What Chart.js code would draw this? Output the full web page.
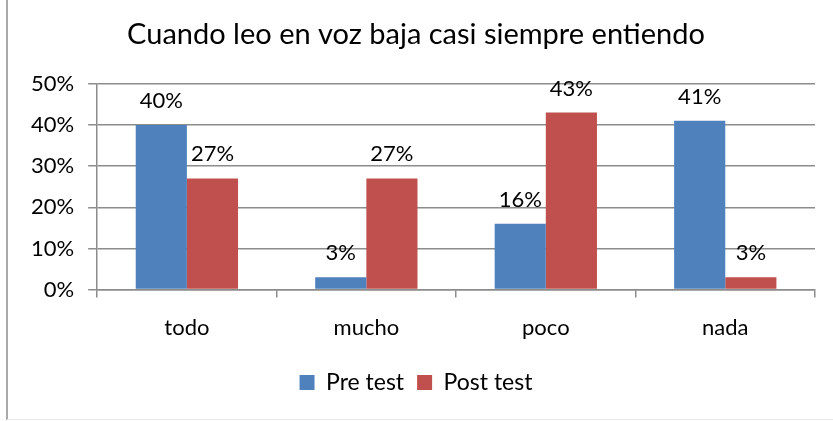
<!DOCTYPE html>
<html>
<head>
<meta charset="utf-8">
<script src="https://cdn.jsdelivr.net/npm/chart.js@4/dist/chart.umd.min.js"></script>
<style>
  html, body { margin: 0; padding: 0; background: #fff; }
  #wrap { width: 833px; height: 421px; position: relative; }
</style>
</head>
<body>
<div id="wrap"><canvas id="chart1"></canvas></div>
<script>
const categories = ["todo", "mucho", "poco", "nada"];
const preTest = [40, 3, 16, 41];
const postTest = [27, 27, 43, 3];
const yTicks = [0, 10, 20, 30, 40, 50];

const fontFamily = "Lato, 'Open Sans', sans-serif";

// etiquetas encima de cada barra
const barLabels = {
  id: "barLabels",
  afterDatasetsDraw(chart) {
    const ctx = chart.ctx;
    ctx.save();
    ctx.font = "22px " + fontFamily;
    ctx.fillStyle = "#000";
    ctx.textAlign = "center";
    ctx.textBaseline = "alphabetic";
    chart.data.datasets.forEach((ds, i) => {
      chart.getDatasetMeta(i).data.forEach((bar, j) => {
        ctx.fillText(ds.data[j] + "%", bar.x, bar.y - 17);
      });
    });
    ctx.restore();
  }
};

// borde del área del gráfico (izquierda y abajo)
const frame = {
  id: "frame",
  beforeDraw(chart) {
    const ctx = chart.ctx;
    ctx.save();
    ctx.strokeStyle = "#8c8c8c";
    ctx.lineWidth = 1.5;
    ctx.beginPath();
    ctx.moveTo(7, 0);
    ctx.lineTo(7, 420);
    ctx.stroke();
    ctx.strokeStyle = "#e6e6e6";
    ctx.lineWidth = 1;
    ctx.beginPath();
    ctx.moveTo(7, 419.5);
    ctx.lineTo(833, 419.5);
    ctx.stroke();
    ctx.restore();
  }
};

new Chart(document.getElementById("chart1"), {
  type: "bar",
  data: {
    labels: categories,
    datasets: [
      { label: "Pre test", data: preTest, backgroundColor: "#4f81bd" },
      { label: "Post test", data: postTest, backgroundColor: "#c0504d" }
    ]
  },
  options: {
    responsive: true,
    maintainAspectRatio: false,
    animation: false,
    layout: { padding: { left: 17, right: 18, top: 0, bottom: 17 } },
    datasets: { bar: { barPercentage: 1, categoryPercentage: 0.57 } },
    plugins: {
      title: {
        display: true,
        text: "Cuando leo en voz baja casi siempre entiendo",
        color: "#000",
        font: { family: fontFamily, size: 29, weight: "normal" },
        padding: { top: 17, bottom: 32 }
      },
      legend: {
        position: "bottom",
        labels: {
          color: "#000",
          font: { family: fontFamily, size: 23 },
          boxWidth: 15,
          boxHeight: 15,
          padding: 13
        }
      },
      tooltip: { enabled: false }
    },
    scales: {
      y: {
        min: 0,
        max: 50,
        afterBuildTicks(axis) {
          axis.ticks = yTicks.map(v => ({ value: v }));
        },
        ticks: {
          color: "#000",
          font: { family: fontFamily, size: 22 },
          padding: 14,
          callback: v => v + "%"
        },
        grid: { color: "#8c8c8c", lineWidth: 1.5, tickLength: 9, drawTicks: true },
        border: { color: "#8c8c8c", width: 1.5 }
      },
      x: {
        ticks: {
          color: "#000",
          font: { family: fontFamily, size: 22 },
          padding: 17
        },
        grid: { offset: true, drawOnChartArea: false, color: "#8c8c8c", lineWidth: 1.5, tickLength: 8 },
        border: { color: "#8c8c8c", width: 1.5 }
      }
    }
  },
  plugins: [frame, barLabels]
});
</script>
</body>
</html>
